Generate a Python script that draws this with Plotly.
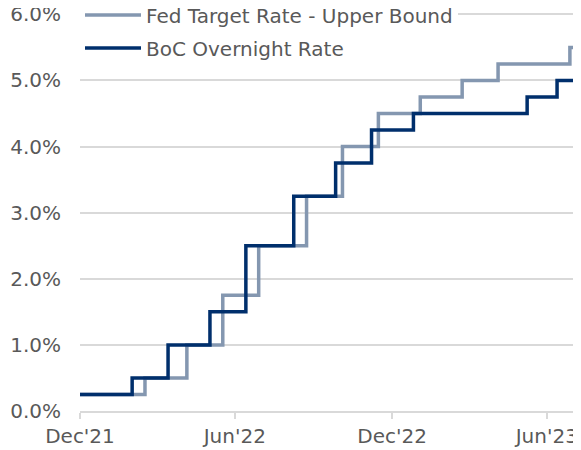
import plotly.graph_objects as go

# Fed Target Rate - Upper Bound (change dates, %)
fed_dates = ["2021-12-31", "2022-03-17", "2022-05-05", "2022-06-16", "2022-07-28",
             "2022-09-22", "2022-11-03", "2022-12-15", "2023-02-02", "2023-03-23",
             "2023-05-04", "2023-07-27", "2023-08-03"]
fed_values = [0.25, 0.50, 1.00, 1.75, 2.50, 3.25, 4.00, 4.50, 4.75, 5.00, 5.25, 5.50, 5.50]

# BoC Overnight Rate (change dates, %)
boc_dates = ["2021-12-31", "2022-03-02", "2022-04-13", "2022-06-01", "2022-07-13",
             "2022-09-07", "2022-10-26", "2022-12-07", "2023-01-25", "2023-06-07",
             "2023-07-12", "2023-08-03"]
boc_values = [0.25, 0.50, 1.00, 1.50, 2.50, 3.25, 3.75, 4.25, 4.50, 4.75, 5.00, 5.00]

x_tick_vals = ["2021-12-31", "2022-06-30", "2022-12-31", "2023-06-30"]
x_tick_text = ["Dec'21", "Jun'22", "Dec'22", "Jun'23"]
y_tick_vals = [0, 1, 2, 3, 4, 5, 6]
y_tick_text = ["0.0%", "1.0%", "2.0%", "3.0%", "4.0%", "5.0%", "6.0%"]

FONT = "DejaVu Sans"
GRAY = "#595959"
GRID = "#d9d9d9"

fig = go.Figure()
fig.add_trace(go.Scatter(x=fed_dates, y=fed_values, mode="lines", line_shape="hv",
                         name="Fed Target Rate - Upper Bound", legendgroup="a",
                         line=dict(color="#8497b0", width=3.5)))
fig.add_trace(go.Scatter(x=boc_dates, y=boc_values, mode="lines", line_shape="hv",
                         name="BoC Overnight Rate", legendgroup="b",
                         line=dict(color="#002f6c", width=3.5)))

fig.update_layout(
    width=573, height=442,
    margin=dict(l=72, r=0, t=5, b=39, autoexpand=False),
    plot_bgcolor="white", paper_bgcolor="white",
    font=dict(family=FONT, size=20, color=GRAY),
    showlegend=True,
    legend=dict(x=0, y=1 - (31.5 - 13) / 398, xanchor="left", yanchor="middle",
                bgcolor="white", borderwidth=0, itemwidth=56,
                traceorder="grouped", tracegroupgap=4,
                font=dict(family=FONT, size=20, color=GRAY)),
    xaxis=dict(type="date", range=["2021-12-31", "2023-08-09"], automargin=False,
               tickvals=x_tick_vals, ticktext=x_tick_text, tickangle=0,
               ticklabeloverflow="allow",
               showgrid=False, showline=True, linecolor=GRID, linewidth=1.5,
               ticks="outside", ticklen=6, tickcolor=GRID, tickwidth=1.5,
               tickfont=dict(family=FONT, size=20, color=GRAY), zeroline=False),
    yaxis=dict(range=[0, 6.02], tickvals=y_tick_vals, ticktext=y_tick_text, automargin=False,
               ticklabeloverflow="allow",
               showgrid=True, gridcolor=GRID, gridwidth=1.5, zeroline=False,
               showline=False, ticks="", ticklabelstandoff=18,
               tickfont=dict(family=FONT, size=20, color=GRAY)),
)

fig.write_html("out.html")
